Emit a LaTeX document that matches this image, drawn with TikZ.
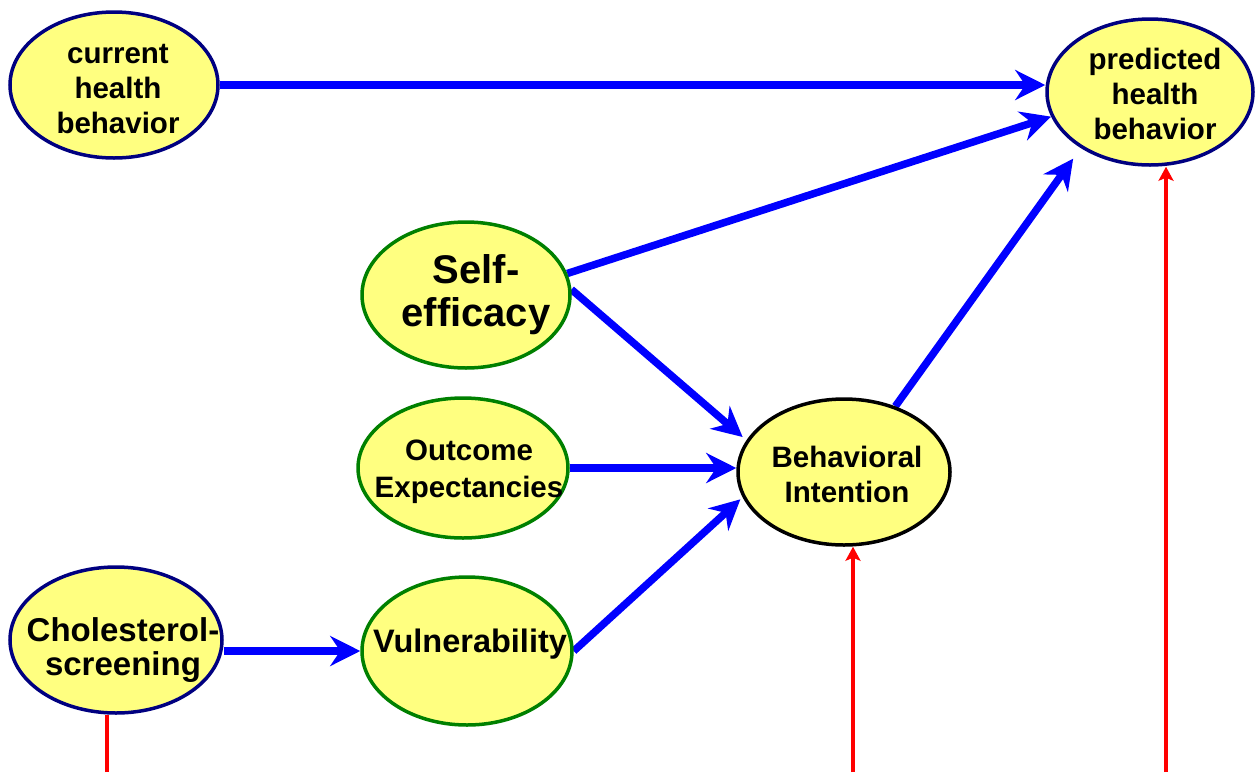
\documentclass[tikz,border=0pt]{standalone}
\usepackage{fontspec}
\setmainfont{Liberation Sans}
\usetikzlibrary{shapes.geometric,arrows.meta}
\definecolor{fillyel}{HTML}{FFFF80}
\definecolor{navyb}{HTML}{000080}
\definecolor{greenb}{HTML}{008000}
\definecolor{arrblue}{HTML}{0000FF}
\definecolor{arrred}{HTML}{FF0000}
\pgfdeclarelayer{background}
\pgfsetlayers{background,main}
\begin{document}
\begin{tikzpicture}[x=1pt,y=-1pt,
  ell/.style={ellipse, fill=fillyel, line width=3.5pt, inner sep=0pt},
  txt/.style={align=center, font=\bfseries\fontsize{29.5}{35}\selectfont, inner sep=0pt},
  barrow/.style={draw=arrblue, line width=7.5pt, -{Stealth[length=30pt,width=30pt,inset=10pt]}},
  rarrow/.style={draw=arrred, line width=3.5pt, -{Stealth[length=14pt,width=15pt,inset=3pt]}},
  rline/.style={draw=arrred, line width=3.5pt}]
\useasboundingbox (0,0) rectangle (1256,772);
% ellipses
\node[ell, draw=navyb, minimum width=208pt, minimum height=146pt] (cur) at (114,85) {};
\node[ell, draw=navyb, minimum width=206pt, minimum height=146pt] (pred) at (1150,92) {};
\node[ell, draw=greenb, minimum width=208pt, minimum height=146pt] (self) at (466,295) {};
\node[ell, draw=greenb, minimum width=210pt, minimum height=140pt] (out) at (463,468) {};
\node[ell, draw=black, minimum width=212pt, minimum height=146pt] (bi) at (844,472) {};
\node[ell, draw=navyb, minimum width=212pt, minimum height=146pt] (chol) at (116,640) {};
\node[ell, draw=greenb, minimum width=210pt, minimum height=148pt] (vuln) at (467,651) {};
% texts
\node[txt] (tcur) at (118,89) {current\\health\\behavior};
\node[txt] (tpred) at (1155,94) {predicted\\health\\behavior};
\node[txt, font=\bfseries\fontsize{40}{43}\selectfont] (tself) at (476,295) {Self-\\efficacy};
\node[txt, font=\bfseries\fontsize{29.5}{37}\selectfont] (tout) at (469,472) {Outcome\\Expectancies};
\node[txt] (tbi) at (847,474) {Behavioral\\Intention};
\node[txt, font=\bfseries\fontsize{33}{34}\selectfont] (tchol) at (123,650) {Cholesterol-\\screening};
\node[txt, font=\bfseries\fontsize{32.5}{36}\selectfont] (tvuln) at (470,644) {Vulnerability};
% connectors
\coordinate (r1) at (107,772);
\coordinate (r2) at (853,772);
\coordinate (r3) at (1166,772);
\begin{pgfonlayer}{background}
\draw[barrow] (cur.east) -- (cur.east -| pred.west);
\draw[barrow] (self.12) -- (pred.194);
\draw[barrow, shorten >=13pt] (bi.52) -- (pred.219);
\draw[barrow, shorten >=5pt] (self.3) -- (bi.162);
\draw[barrow] (out.east) -- (out.east -| bi.west);
\draw[barrow, shorten >=3pt] (vuln.east) -- (bi.194);
\draw[barrow] (chol.east |- vuln.west) -- (vuln.west);
\draw[rline] (r1) -- (r1 |- chol.south);
\draw[rarrow] (r2) -- (r2 |- bi.south);
\draw[rarrow] (r3) -- (r3 |- pred.south);
\end{pgfonlayer}
\end{tikzpicture}
\end{document}
